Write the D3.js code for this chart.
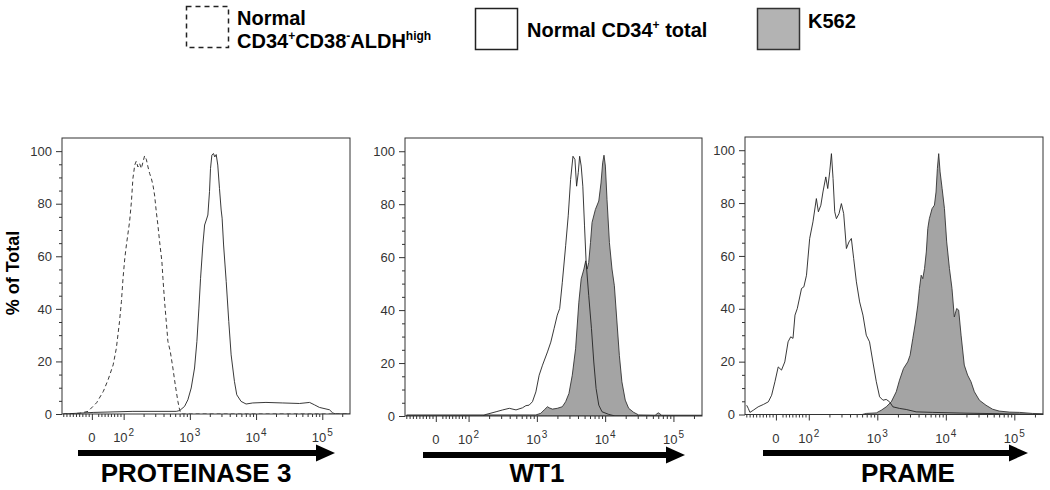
<!DOCTYPE html>
<html><head><meta charset="utf-8">
<script src="https://cdn.jsdelivr.net/npm/d3@7"></script>
<style>
body{margin:0;background:#fff;}
svg{font-family:Arial,"Liberation Sans",sans-serif;}
</style>
</head><body>
<svg id="c" width="1050" height="490"></svg>
<script>
// ---------------- data ----------------
const panelTitles = ["PROTEINASE 3", "WT1", "PRAME"];
const yTickValues = [0, 20, 40, 60, 80, 100];
const xTickValues = [0, 100, 1000, 10000, 100000];
const xTickBase = ["0", "10", "10", "10", "10"];
const xTickExp = ["", "2", "3", "4", "5"];
const xDomain = [-94, 262144];
const yDomain = [0, 105];

// [fluorescence intensity, % of max]
const pr3Aldh = [[-90,0],[-38,0.3],[-12,1.0],[15,4.3],[36,8.6],[51,13.0],[67,18.7],[77,25.0],[87,35.2],[93,42.8],[98,51.6],[104,59.2],[110,64.3],[123,73.2],[131,80.8],[138,89.6],[147,94.7],[155,96.2],[164,94.0],[174,95.3],[185,93.4],[196,95.9],[207,98.2],[220,96.9],[233,94.0],[247,91.5],[262,89.6],[277,87.1],[293,83.3],[311,77.0],[329,71.9],[349,65.6],[378,58.0],[392,51.6],[415,42.8],[440,35.2],[466,27.6],[506,23.8],[554,17.5],[602,11.1],[659,4.8],[700,1.6],[741,0],[262144,0]];
const pr3Total = [[-90,0],[4,0.6],[138,1.0],[623,1.0],[700,1.3],[832,2.9],[933,5.4],[1048,9.9],[1177,17.5],[1277,27.6],[1370,40.3],[1450,51.6],[1570,64.3],[1670,71.9],[1770,73.8],[1870,75.7],[1980,84.6],[2050,93.4],[2150,98.5],[2270,99.1],[2380,97.8],[2500,98.7],[2640,94.7],[2800,85.8],[2970,77.6],[3070,74.5],[3230,64.3],[3540,50.4],[3870,35.2],[4200,22.5],[4710,12.4],[5110,7.3],[5930,4.8],[7060,3.8],[8900,4.2],[14100,4.4],[25300,4.2],[45200,4.0],[64300,4.4],[76000,3.5],[90600,2.5],[128500,1.6],[143800,0.4],[160000,0],[262144,0]];
const wt1Total = [[-89,0],[161,0],[181,0.6],[253,1.6],[316,2.3],[395,2.9],[495,2.3],[617,3.1],[690,3.9],[770,4.1],[862,5.4],[967,9.1],[1080,15.4],[1210,19.2],[1430,24.2],[1600,27.9],[1790,33.1],[1990,38.1],[2160,40.6],[2360,50.5],[2640,64.3],[2880,75.6],[3120,89.3],[3380,98.1],[3610,96.9],[3820,86.8],[4040,91.9],[4230,98.1],[4460,94.4],[4710,86.8],[4990,71.8],[5270,58.0],[5750,45.5],[6300,33.1],[6820,20.4],[7370,10.4],[8070,4.1],[9000,1.6],[11300,0.6],[14000,0],[262144,0]];
const wt1K562 = [[-89,0.4],[770,0.4],[967,0.4],[1140,1.0],[1280,2.3],[1430,3.5],[1510,3.1],[1690,2.6],[1990,2.9],[2360,3.5],[2640,5.4],[2950,8.5],[3300,15.4],[3690,25.4],[4120,43.0],[4460,51.8],[4890,55.5],[5190,58.6],[5460,55.5],[5750,58.0],[6100,65.5],[6430,73.1],[7200,78.0],[8070,81.2],[8700,88.0],[9200,95.6],[9620,98.5],[10080,94.4],[10650,81.8],[11550,65.5],[12600,55.5],[13650,49.2],[14900,35.5],[16150,22.9],[17600,12.9],[19700,6.0],[22100,2.9],[26100,1.4],[30900,0.4],[54000,0.3],[60000,1.2],[67400,0.3],[262144,0.3]];
const prameTotal = [[-89,3.5],[-84,2.3],[-79,0.8],[-69,1.6],[-54,2.9],[-38,3.8],[-23,4.8],[-13,7.3],[-3,12.4],[7,18.0],[17,16.8],[27,19.9],[37,27.5],[45,29.4],[52,28.8],[58,37.6],[65,40.1],[78,47.7],[85,48.3],[93,52.7],[103,66.6],[115,72.9],[129,81.7],[138,76.7],[150,79.2],[161,84.2],[177,89.9],[189,85.5],[202,91.8],[214,98.7],[226,89.3],[239,76.7],[253,74.1],[276,76.0],[299,79.8],[323,76.0],[354,62.8],[386,65.3],[418,66.6],[452,59.0],[495,50.2],[552,42.6],[617,37.6],[690,30.0],[770,27.5],[862,19.9],[967,12.4],[1080,6.7],[1210,5.4],[1350,5.7],[1510,4.8],[1690,2.9],[2110,2.3],[2640,1.9],[3690,1.0],[6430,0.8],[19700,0.5],[60000,0.3],[230000,0],[262144,0]];
const prameK562 = [[-89,0],[600,0],[690,0.4],[967,0.6],[1140,1.6],[1350,2.9],[1600,4.8],[1890,8.6],[2110,13.0],[2410,17.4],[2780,19.9],[3010,22.4],[3300,28.8],[3610,35.0],[3900,41.4],[4120,47.7],[4370,52.7],[4610,51.4],[4890,55.2],[5190,61.5],[5460,70.4],[5750,74.1],[6300,77.9],[6820,79.2],[7200,84.2],[7530,93.1],[7870,98.7],[8250,91.8],[8830,85.5],[9550,77.9],[10300,65.3],[11300,55.2],[12300,47.7],[13300,36.9],[14400,40.1],[15400,39.5],[16700,30.0],[18600,18.7],[20800,14.9],[23300,12.4],[26100,8.6],[30900,5.4],[38600,3.5],[48200,2.0],[60000,1.3],[84600,0.9],[118500,0.8],[183700,0.4],[262144,0.3]];

// ---------------- layout ----------------
const panelBoxes = [
  {L:62,  R:350,  T:138, B:414},
  {L:405, R:702,  T:138, B:416},
  {L:745, R:1043, T:137, B:414.5}
];
const arrows = [{x0:78, x1:335, y:453},{x0:423, x1:685, y:455},{x0:763, x1:1028, y:453}];
const titleX = [196, 537, 908];
const panelSeries = [
  [{data:pr3Aldh, kind:"dashed"},{data:pr3Total, kind:"line"}],
  [{data:wt1K562, kind:"fill"},{data:wt1Total, kind:"line"}],
  [{data:prameK562, kind:"fill"},{data:prameTotal, kind:"line"}]
];

// biexponential-like transform (linear near zero, log above)
const LIN = 100, W = 0.48;
function tf(v){ const a = Math.abs(v), s = v < 0 ? -1 : 1; return a <= LIN ? s*W*a/LIN : s*(W + Math.log10(a/LIN)); }

// minor ticks
const minorX = [];
for (let k = 1; k <= 9; k++) { minorX.push(-k*10); if (k>1) minorX.push(k*10); }
[100,1000,10000,100000].forEach(d => { for (let k = 2; k <= 9; k++) if (d*k <= 262144) minorX.push(d*k); });
const minorY = d3.range(5, 105, 5).filter(v => v % 20 !== 0);

const svg = d3.select("#c");
const ink = "#222";

panelBoxes.forEach((b, i) => {
  const lin = d3.scaleLinear().domain(xDomain.map(tf)).range([b.L, b.R]);
  const x = v => lin(tf(v));
  const y = d3.scaleLinear().domain(yDomain).range([b.B, b.T]);
  const g = svg.append("g");

  const clipId = "clip" + i;
  svg.append("clipPath").attr("id", clipId).append("rect")
    .attr("x", b.L).attr("y", b.T).attr("width", b.R - b.L).attr("height", b.B - b.T);
  const plot = g.append("g").attr("clip-path", `url(#${clipId})`);

  panelSeries[i].forEach(s => {
    if (s.kind === "fill") {
      plot.append("path").datum(s.data)
        .attr("d", d3.area().x(d => x(d[0])).y0(y(0)).y1(d => y(d[1])))
        .attr("fill", "#a4a4a4").attr("stroke", "#333").attr("stroke-width", 0.9);
    }
  });
  panelSeries[i].forEach(s => {
    if (s.kind !== "fill") {
      plot.append("path").datum(s.data)
        .attr("d", d3.line().x(d => x(d[0])).y(d => y(d[1])))
        .attr("fill", "none").attr("stroke", ink).attr("stroke-width", 0.9)
        .attr("stroke-dasharray", s.kind === "dashed" ? "4,3" : null);
    }
  });

  // frame
  g.append("rect").attr("x", b.L).attr("y", b.T).attr("width", b.R - b.L).attr("height", b.B - b.T)
    .attr("fill", "none").attr("stroke", "#333").attr("stroke-width", 1);

  // y axis
  const yAx = g.append("g").attr("transform", `translate(${b.L},0)`)
    .call(d3.axisLeft(y).tickValues(yTickValues).tickSize(6).tickPadding(4));
  yAx.select(".domain").remove();
  yAx.selectAll("line").attr("stroke", "#333");
  yAx.selectAll("text").attr("font-size", 13).attr("fill", "#333").attr("font-family", "Arial,'Liberation Sans',sans-serif");
  const yMin = g.append("g").attr("transform", `translate(${b.L},0)`)
    .call(d3.axisLeft(y).tickValues(minorY).tickSize(3).tickFormat(""));
  yMin.select(".domain").remove();
  yMin.selectAll("line").attr("stroke", "#333");

  // x axis
  const xAx = g.append("g").attr("transform", `translate(0,${b.B})`)
    .call(d3.axisBottom(lin).tickValues(xTickValues.map(tf)).tickSize(6).tickFormat(""));
  xAx.select(".domain").remove();
  xAx.selectAll("line").attr("stroke", "#333");
  const xMin = g.append("g").attr("transform", `translate(0,${b.B})`)
    .call(d3.axisBottom(lin).tickValues(minorX.map(tf)).tickSize(3).tickFormat(""));
  xMin.select(".domain").remove();
  xMin.selectAll("line").attr("stroke", "#333");

  xTickValues.forEach((v, j) => {
    const t = g.append("text").attr("x", x(v)).attr("y", b.B + 28)
      .attr("text-anchor", "middle").attr("font-size", 13).attr("fill", "#333");
    t.append("tspan").text(xTickBase[j]);
    if (xTickExp[j]) t.append("tspan").attr("dy", -6).attr("font-size", 10).attr("dx", 1).text(xTickExp[j]);
  });

  // arrow
  const a = arrows[i];
  g.append("line").attr("x1", a.x0).attr("x2", a.x1 - 16).attr("y1", a.y).attr("y2", a.y)
    .attr("stroke", "#000").attr("stroke-width", 6);
  g.append("path").attr("d", `M${a.x1},${a.y}L${a.x1-19},${a.y-8.5}L${a.x1-19},${a.y+8.5}Z`).attr("fill", "#000");

  g.append("text").attr("x", titleX[i]).attr("y", 482).attr("text-anchor", "middle")
    .attr("font-size", 26).attr("font-weight", "bold").attr("fill", "#000").text(panelTitles[i]);
});

// y title
svg.append("text").attr("transform", "translate(19,273) rotate(-90)").attr("text-anchor", "middle")
  .attr("font-size", 18).attr("font-weight", "bold").text("% of Total");

// legend
const lg = svg.append("g").attr("font-weight", "bold").attr("font-size", 20).attr("fill", "#000");
lg.append("rect").attr("x", 186.5).attr("y", 6.5).attr("width", 42).attr("height", 41)
  .attr("fill", "none").attr("stroke", "#222").attr("stroke-width", 1.5).attr("stroke-dasharray", "5,4");
lg.append("text").attr("x", 237).attr("y", 25).text("Normal");
const t2 = lg.append("text").attr("x", 237).attr("y", 48);
t2.append("tspan").text("CD34");
t2.append("tspan").attr("dy", -8).attr("font-size", 12).text("+");
t2.append("tspan").attr("dy", 8).text("CD38");
t2.append("tspan").attr("dy", -8).attr("font-size", 12).text("-");
t2.append("tspan").attr("dy", 8).text("ALDH");
t2.append("tspan").attr("dy", -8).attr("font-size", 12).text("high");

lg.append("rect").attr("x", 475.5).attr("y", 8.5).attr("width", 42).attr("height", 41)
  .attr("fill", "none").attr("stroke", "#222").attr("stroke-width", 1.5);
const t3 = lg.append("text").attr("x", 527).attr("y", 37);
t3.append("tspan").text("Normal CD34");
t3.append("tspan").attr("dy", -8).attr("font-size", 12).text("+");
t3.append("tspan").attr("dy", 8).text(" total");

lg.append("rect").attr("x", 757.5).attr("y", 8.5).attr("width", 42).attr("height", 41)
  .attr("fill", "#b3b3b3").attr("stroke", "#333").attr("stroke-width", 1.5);
lg.append("text").attr("x", 808).attr("y", 28).text("K562");
</script>
</body></html>
